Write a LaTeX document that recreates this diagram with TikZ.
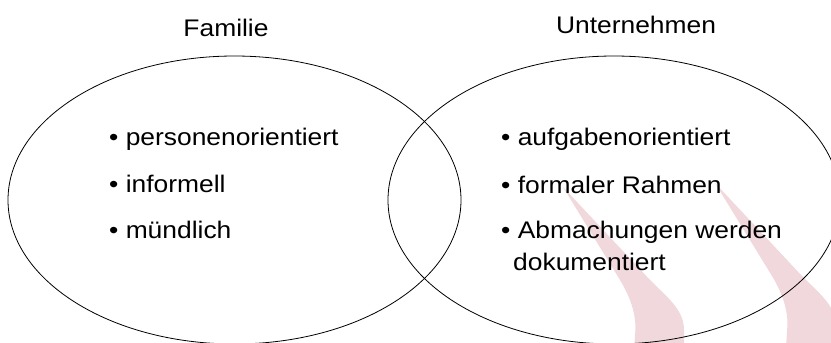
\documentclass[tikz,border=0pt]{standalone}
\usepackage{fontspec}
\setmainfont[FakeStretch=1.1]{Liberation Sans}
\usepackage{xcolor}
\definecolor{bandpink}{RGB}{240,216,220}

\begin{document}
\begin{tikzpicture}[x=1pt, y=-1pt,
  ring/.style={line width=0.8pt},
  head/.style={anchor=base, inner sep=0pt, font=\fontsize{24}{31}\selectfont},
  item/.style={anchor=base west, inner sep=0pt, font=\fontsize{24}{31}\selectfont}]
\useasboundingbox (0,0) rectangle (831,343);
\foreach \dx/\dy in {0/0, 152/-4}
  \fill[bandpink, shift={(\dx,\dy)}]
    (563,187) -- (650,280) .. controls (668,298) and (684,310) .. (684,330) -- (684,352)
    -- (634,352) -- (635,335) .. controls (637,318) and (632,300) .. (620,280) -- cycle;
\draw[ring] (234.5,200) ellipse [x radius=226.5pt, y radius=144pt];
\draw[ring] (614,200) ellipse [x radius=226pt, y radius=144pt];
\node[head] (fam) at (226,36) {Familie};
\node[head] (unt) at (636,33) {Unternehmen};
\node[item] (pers) at (109,145) {\textbullet\ personenorientiert};
\node[item] (inf) at (109,192) {\textbullet\ informell};
\node[item] (muen) at (109,238) {\textbullet\ mündlich};
\node[item] (aufg) at (501,145) {\textbullet\ aufgabenorientiert};
\node[item] (form) at (501,193) {\textbullet\ formaler Rahmen};
\node[item] (abm) at (501,238) {\textbullet\ Abmachungen werden};
\node[item] (dok) at (513,270) {dokumentiert};
\end{tikzpicture}
\end{document}
